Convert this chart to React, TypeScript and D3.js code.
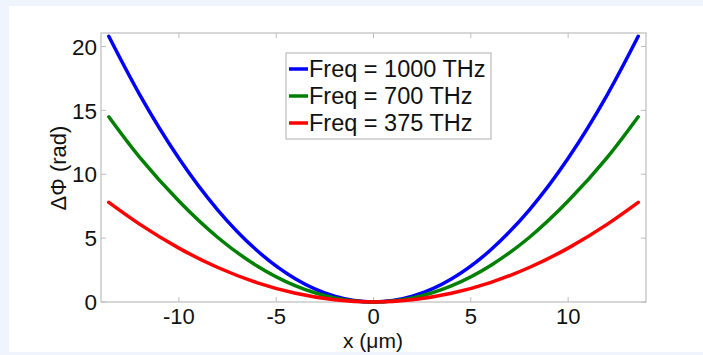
import React from "react";
import * as d3 from "d3";

const xs = [-13.6, -12, -10, -8, -6, -4, -2, 0, 2, 4, 6, 8, 10, 12, 13.6];
const blue = [20.8, 16.2, 11.25, 7.2, 4.05, 1.8, 0.45, 0, 0.45, 1.8, 4.05, 7.2, 11.25, 16.2, 20.8];
const green = [14.5, 11.3, 7.9, 5.05, 2.84, 1.26, 0.32, 0, 0.32, 1.26, 2.84, 5.05, 7.9, 11.3, 14.5];
const red = [7.8, 6.08, 4.22, 2.7, 1.52, 0.68, 0.17, 0, 0.17, 0.68, 1.52, 2.7, 4.22, 6.08, 7.8];
const seriesNames = ["Freq = 1000 THz", "Freq = 700 THz", "Freq = 375 THz"];
const seriesColors = ["#0000ff", "#008000", "#ff0000"];
const xTicks = [-10, -5, 0, 5, 10];
const yTicks = [0, 5, 10, 15, 20];

export default function App() {
  const W = 703, H = 355;
  const L = 101, R = 646, T = 33, B = 302;
  const x = d3.scaleLinear().domain([-14, 14]).range([L, R]);
  const y = d3.scaleLinear().domain([0, 21.06]).range([B, T]);
  const line = d3
    .line<number>()
    .x((_, i) => x(xs[i]))
    .y((d) => y(d))
    .curve(d3.curveNatural);
  const data = [blue, green, red];
  const font = "'Liberation Sans', Arial, sans-serif";
  const tick = 5;
  return (
    <div style={{ position: "fixed", left: 0, top: 0, width: W, height: H }}>
      <svg width={W} height={H} style={{ display: "block" }} fontFamily={font}>
        <rect x={0} y={0} width={W} height={H} fill="#f0f4fc" />
        <rect x={9} y={6} width={W - 9} height={346} fill="#ffffff" />
        <rect x={L} y={T} width={R - L} height={B - T} fill="#ffffff" stroke="#bdbdbd" strokeWidth={1.2} />
        {xTicks.map((t) => (
          <g key={"x" + t}>
            <line x1={x(t)} x2={x(t)} y1={B} y2={B - tick} stroke="#bdbdbd" />
            <line x1={x(t)} x2={x(t)} y1={T} y2={T + tick} stroke="#bdbdbd" />
            <text x={x(t)} y={B + 22} textAnchor="middle" fontSize={22} fill="#111">
              {t < 0 ? "-" + Math.abs(t) : t}
            </text>
          </g>
        ))}
        {yTicks.map((t) => (
          <g key={"y" + t}>
            <line x1={L} x2={L + tick} y1={y(t)} y2={y(t)} stroke="#bdbdbd" />
            <line x1={R} x2={R - tick} y1={y(t)} y2={y(t)} stroke="#bdbdbd" />
            <text x={L - 4} y={y(t)} dy="0.36em" textAnchor="end" fontSize={22.5} fill="#111">
              {t}
            </text>
          </g>
        ))}
        {data.map((d, i) => (
          <path key={i} d={line(d) || ""} fill="none" stroke={seriesColors[i]} strokeWidth={3.5} strokeLinecap="round" />
        ))}
        <text x={373} y={348} textAnchor="middle" fontSize={21} fill="#111">
          x (μm)
        </text>
        <text
          transform={`translate(66,168) rotate(-90)`}
          textAnchor="middle"
          fontSize={22}
          fill="#111"
        >
          ΔΦ (rad)
        </text>
        <rect x={286} y={53} width={205} height={86} fill="#ffffff" stroke="#bdbdbd" strokeWidth={1.2} />
        {seriesNames.map((n, i) => (
          <g key={n}>
            <line x1={289} x2={308} y1={69 + i * 27} y2={69 + i * 27} stroke={seriesColors[i]} strokeWidth={3.5} />
            <text x={309} y={69 + i * 27} dy="0.36em" fontSize={23.5} fill="#111">
              {n}
            </text>
          </g>
        ))}
      </svg>
    </div>
  );
}
